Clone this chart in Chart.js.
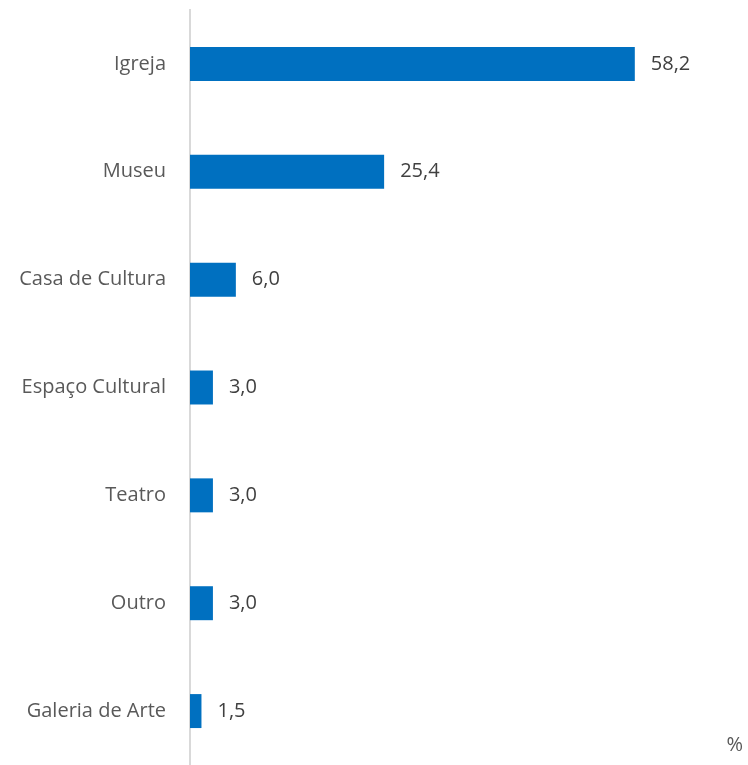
<!DOCTYPE html>
<html lang="pt">
<head>
    <meta charset="UTF-8">
    <title>Locais</title>
    <script src="https://cdn.jsdelivr.net/npm/chart.js"></script>
    <style>
        html, body { margin: 0; padding: 0; background: #fff; }
        #wrap { width: 748px; height: 765px; position: relative; }
    </style>
</head>
<body>
    <div id="wrap"><canvas id="myChart"></canvas></div>

    <script>
        const categories = ['Igreja', 'Museu', 'Casa de Cultura', 'Espaço Cultural', 'Teatro', 'Outro', 'Galeria de Arte'];
        const values = [58.2, 25.4, 6.0, 3.0, 3.0, 3.0, 1.5];
        const unitLabel = '%';

        const fontFamily = '"Open Sans", "Liberation Sans", sans-serif';

        // value labels next to each bar + the unit at bottom right
        const valueLabels = {
            id: 'valueLabels',
            afterDatasetsDraw(chart) {
                const ctx = chart.ctx;
                const meta = chart.getDatasetMeta(0);
                ctx.save();
                ctx.font = '20px ' + fontFamily;
                ctx.fillStyle = '#404040';
                ctx.textAlign = 'left';
                ctx.textBaseline = 'middle';
                meta.data.forEach((bar, i) => {
                    ctx.fillText(values[i].toFixed(1).replace('.', ','), bar.x + 16, bar.y);
                });
                ctx.textAlign = 'right';
                ctx.fillStyle = '#595959';
                ctx.fillText(unitLabel, 743, 745);
                ctx.restore();
            }
        };

        const ctx = document.getElementById('myChart').getContext('2d');
        const myChart = new Chart(ctx, {
            type: 'bar',
            data: {
                labels: categories,
                datasets: [{
                    data: values,
                    backgroundColor: '#0070C0',
                    barPercentage: 0.315,
                    categoryPercentage: 1
                }]
            },
            options: {
                indexAxis: 'y',
                responsive: true,
                maintainAspectRatio: false,
                animation: false,
                layout: { autoPadding: false, padding: { top: 10, right: 23, bottom: 0, left: 0 } },
                plugins: {
                    legend: { display: false },
                    tooltip: { enabled: false }
                },
                scales: {
                    x: { display: false, min: 0, max: 70 },
                    y: {
                        afterFit(scale) {
                            scale.width = 190;
                            scale.paddingTop = 0;
                            scale.paddingBottom = 0;
                        },
                        grid: { display: false, drawTicks: false },
                        border: { display: true, color: '#d9d9d9', width: 2 },
                        ticks: { padding: 24, color: '#595959', font: { family: fontFamily, size: 20 } }
                    }
                }
            },
            plugins: [valueLabels]
        });
    </script>
</body>
</html>
